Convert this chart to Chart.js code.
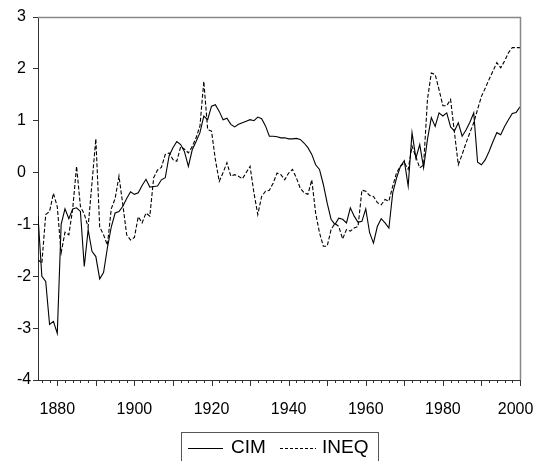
<!DOCTYPE html>
<html>
<head>
<meta charset="utf-8">
<script src="https://cdn.jsdelivr.net/npm/chart.js@4"></script>
<style>
  html, body { margin: 0; padding: 0; background: #fff; }
  #chart { display: block; }
</style>
</head>
<body>
<canvas id="chart" width="536" height="461"></canvas>
<script>
// annual series, 1875 .. 2000
const startYear = 1875;
const endYear = 2000;
const years = Array.from({ length: endYear - startYear + 1 }, (_, i) => startYear + i);

const cim = [
  -0.84, -2.0, -2.1, -2.93, -2.87, -3.1, -1.0, -0.7, -0.89, -0.7,      // 1875-1884
  -0.68, -0.75, -1.81, -1.1, -1.52, -1.62, -2.05, -1.93, -1.45, -1.05, // 1885-1894
  -0.78, -0.75, -0.65, -0.5, -0.37, -0.42, -0.39, -0.25, -0.13, -0.28, // 1895-1904
  -0.27, -0.26, -0.14, -0.1, 0.32, 0.48, 0.6, 0.54, 0.4, 0.12,         // 1905-1914
  0.44, 0.6, 0.77, 1.09, 1.02, 1.28, 1.31, 1.18, 1.02, 1.05,           // 1915-1924
  0.93, 0.88, 0.93, 0.96, 0.99, 1.02, 1.0, 1.07, 1.04, 0.9,            // 1925-1934
  0.7, 0.7, 0.69, 0.67, 0.67, 0.65, 0.65, 0.66, 0.64, 0.57,            // 1935-1944
  0.48, 0.35, 0.15, 0.06, -0.23, -0.59, -0.9, -1.0, -0.88, -0.9,       // 1945-1954
  -0.97, -0.68, -0.84, -0.96, -0.94, -0.7, -1.16, -1.36, -1.04, -0.89, // 1955-1964
  -0.97, -1.07, -0.39, -0.1, 0.12, 0.23, -0.26, 0.77, 0.28, 0.54,      // 1965-1974
  0.09, 0.64, 1.06, 0.89, 1.15, 1.09, 1.15, 0.88, 0.8, 0.96,           // 1975-1984
  0.7, 0.82, 0.97, 1.15, 0.2, 0.15, 0.25, 0.41, 0.6, 0.77,             // 1985-1994
  0.73, 0.89, 1.02, 1.14, 1.16, 1.27                                   // 1995-2000
];

const ineq = [
  -1.68, -1.75, -0.81, -0.75, -0.4, -0.66, -1.55, -1.15, -1.2, -0.7,   // 1875-1884
  0.12, -0.65, -0.8, -1.05, -0.2, 0.65, -1.05, -1.2, -1.4, -0.7,       // 1885-1894
  -0.5, -0.07, -0.62, -1.2, -1.3, -1.25, -0.85, -0.97, -0.78, -0.84,   // 1895-1904
  -0.1, 0.05, 0.1, 0.35, 0.38, 0.25, 0.22, 0.5, 0.45, 0.38,            // 1905-1914
  0.5, 0.67, 0.9, 1.76, 0.83, 0.8, 0.25, -0.17, 0.0, 0.19,             // 1915-1924
  -0.07, -0.04, -0.07, -0.12, 0.0, 0.12, -0.39, -0.81, -0.46, -0.36,   // 1925-1934
  -0.34, -0.2, -0.01, -0.04, -0.14, -0.01, 0.06, -0.1, -0.3, -0.39,    // 1935-1944
  -0.42, -0.14, -0.78, -1.16, -1.42, -1.42, -1.1, -0.98, -1.04, -1.28, // 1945-1954
  -1.1, -1.13, -1.07, -1.04, -0.34, -0.36, -0.44, -0.46, -0.58, -0.62, // 1955-1964
  -0.52, -0.55, -0.26, 0.0, 0.12, 0.19, 0.06, 0.51, 0.3, 0.09,         // 1965-1974
  0.15, 1.41, 1.92, 1.89, 1.6, 1.29, 1.29, 1.41, 0.77, 0.15,           // 1975-1984
  0.35, 0.57, 0.77, 0.96, 1.22, 1.47, 1.63, 1.8, 1.96, 2.12,           // 1985-1994
  2.02, 2.15, 2.31, 2.41, 2.41, 2.41                                   // 1995-2000
];

const xLabelYears = [1880, 1900, 1920, 1940, 1960, 1980, 2000];
const yTicks = [-4, -3, -2, -1, 0, 1, 2, 3];
const seriesNames = ["CIM", "INEQ"];

const axisColor = "#333";

// minor ticks every 2 years, longer ones every 10, plus box and legend
const frameAndLegend = {
  id: "frameAndLegend",
  afterDraw(chart) {
    const ctx = chart.ctx;
    const x = chart.scales.x;
    const a = chart.chartArea;
    ctx.save();

    ctx.strokeStyle = axisColor;
    ctx.lineWidth = 1;
    ctx.beginPath();
    for (let yr = startYear + 1; yr <= endYear; yr += 2) {
      const px = Math.round(x.getPixelForValue(yr)) + 0.5;
      const len = yr % 10 === 0 ? 6 : 3;
      ctx.moveTo(px, a.bottom);
      ctx.lineTo(px, a.bottom + len);
    }
    ctx.stroke();

    // top and right edges of the box
    ctx.strokeStyle = "#888";
    ctx.lineWidth = 1.5;
    ctx.beginPath();
    ctx.moveTo(a.left, a.top + 0.5);
    ctx.lineTo(a.right + 0.5, a.top + 0.5);
    ctx.lineTo(a.right + 0.5, a.bottom);
    ctx.stroke();

    // legend box
    const lx = 181, ly = 432, lw = 197;
    ctx.strokeStyle = "#555";
    ctx.lineWidth = 1;
    ctx.strokeRect(lx + 0.5, ly + 0.5, lw, 40);

    ctx.strokeStyle = "#000";
    ctx.beginPath();
    ctx.moveTo(188, 448.5);
    ctx.lineTo(223, 448.5);
    ctx.stroke();
    ctx.setLineDash([3, 2]);
    ctx.beginPath();
    ctx.moveTo(280, 448.5);
    ctx.lineTo(316, 448.5);
    ctx.stroke();
    ctx.setLineDash([]);

    ctx.fillStyle = "#000";
    ctx.font = "19px 'Liberation Sans', Arial, sans-serif";
    ctx.textBaseline = "middle";
    ctx.textAlign = "left";
    ctx.fillText(seriesNames[0], 231, 448);
    ctx.fillText(seriesNames[1], 322, 448);
    ctx.restore();
  }
};

const ctx = document.getElementById("chart");

const myChart = new Chart(ctx, {
  type: "line",
  data: {
    datasets: [
      {
        label: seriesNames[0],
        data: years.map((yr, i) => ({ x: yr, y: cim[i] })),
        borderColor: "#000",
        borderWidth: 1.1,
        pointRadius: 0,
        tension: 0,
      },
      {
        label: seriesNames[1],
        data: years.map((yr, i) => ({ x: yr, y: ineq[i] })),
        borderColor: "#000",
        borderWidth: 1.1,
        borderDash: [4, 2],
        pointRadius: 0,
        tension: 0,
      },
    ],
  },
  options: {
    responsive: false,
    animation: false,
    events: [],
    layout: {
      padding: { top: 17, right: 16, left: 17, bottom: 0 },
    },
    plugins: {
      legend: { display: false },
      tooltip: { enabled: false },
    },
    scales: {
      x: {
        type: "linear",
        min: startYear,
        max: endYear,
        afterBuildTicks: (scale) => {
          scale.ticks = xLabelYears.map((v) => ({ value: v }));
        },
        afterFit: (scale) => {
          scale.height = 81;
          scale.paddingLeft = 0;
          scale.paddingRight = 0;
        },
        ticks: {
          autoSkip: false,
          maxRotation: 0,
          padding: 12,
          color: "#000",
          font: { size: 16, family: "'Liberation Sans', Arial, sans-serif" },
          // last label nudged left so it stays inside the canvas
          callback: (v) => (v === endYear ? String(v) + "\u00a0\u00a0" : String(v)),
        },
        grid: { display: false },
        border: { display: true, color: axisColor, width: 1 },
      },
      y: {
        min: -4,
        max: 3,
        afterBuildTicks: (scale) => {
          scale.ticks = yTicks.map((v) => ({ value: v }));
        },
        afterFit: (scale) => {
          scale.width = 21;
        },
        ticks: {
          crossAlign: "far",
          color: "#000",
          font: { size: 16, family: "'Liberation Sans', Arial, sans-serif" },
        },
        grid: {
          drawOnChartArea: false,
          tickLength: 5,
          tickColor: axisColor,
        },
        border: { display: true, color: axisColor, width: 1 },
      },
    },
  },
  plugins: [frameAndLegend],
});
</script>
</body>
</html>
